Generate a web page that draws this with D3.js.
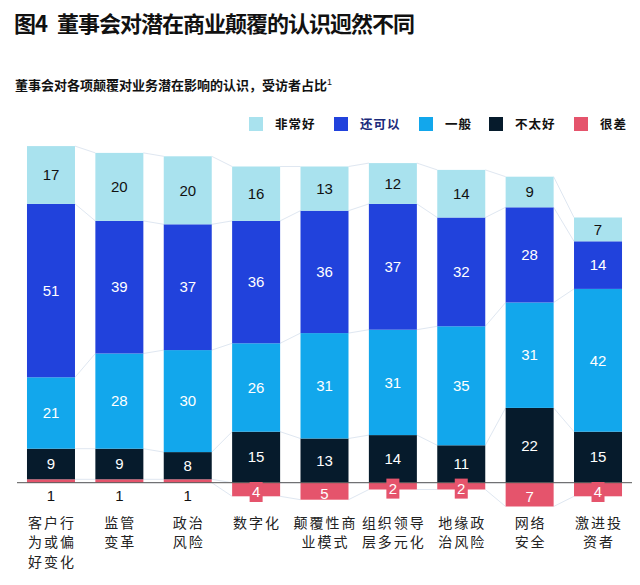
<!DOCTYPE html>
<html><head><meta charset="utf-8">
<script src="https://cdn.jsdelivr.net/npm/d3@7"></script>
<style>
html,body{margin:0;padding:0;background:#fff;}
svg{display:block;}
</style></head>
<body><svg id="c" width="640" height="585"></svg>
<script>
const titlePrefix = "图4";
const titleText = "董事会对潜在商业颠覆的认识迥然不同";
const subtitleText = "董事会对各项颠覆对业务潜在影响的认识，受访者占比";
const categories = [
  ["客户行","为或偏","好变化"],
  ["监管","变革"],
  ["政治","风险"],
  ["数字化"],
  ["颠覆性商","业模式"],
  ["组织领导","层多元化"],
  ["地缘政","治风险"],
  ["网络","安全"],
  ["激进投","资者"]
];
const seriesNames = ["非常好","还可以","一般","不太好","很差"];
const veryGood = [17,20,20,16,13,12,14,9,7];
const okay     = [51,39,37,36,36,37,32,28,14];
const neutral  = [21,28,30,26,31,31,35,31,42];
const notGood  = [9,9,8,15,13,14,11,22,15];
const veryBad  = [1,1,1,4,5,2,2,7,4];
const colors = ["#a9e2ee","#2142dc","#12a7ec","#061b2c","#e5546c"];
const labelColors = ["#111","#fff","#fff","#fff","#fff"];

const svg = d3.select("#c");
const cats = categories.map(d => d.join(""));

const tt = svg.append("text").attr("x",14).attr("y",32)
  .attr("font-family","'Noto Sans CJK SC'").attr("font-weight",700)
  .attr("font-size",22).attr("letter-spacing",-1).attr("fill","#111");
tt.append("tspan").text(titlePrefix);
tt.append("tspan").attr("dx",10).text(titleText);

const st = svg.append("text").attr("x",15).attr("y",90)
  .attr("font-family","'Noto Sans CJK SC'").attr("font-weight",700)
  .attr("font-size",13).attr("fill","#111").text(subtitleText);
st.append("tspan").attr("dy",-5).attr("font-size",9).attr("font-weight",400)
  .attr("font-family","'Liberation Sans'").text("1");

// legend
const legendX = [249,334,419,489,574];
const lg = svg.append("g");
seriesNames.forEach((n,i) => {
  lg.append("rect").attr("x",legendX[i]).attr("y",117).attr("width",14).attr("height",14).attr("fill",colors[i]);
  lg.append("text").attr("x",legendX[i]+26).attr("y",129)
    .attr("font-family","'Noto Sans CJK SC'").attr("font-weight",700).attr("font-size",12.5)
    .attr("letter-spacing",1).attr("fill", i===1 ? "#1b2a7a" : "#111").text(n);
});

const x = d3.scaleBand().domain(cats).range([17,632]).paddingInner(0.298).paddingOuter(0.146);
const y = d3.scaleLinear().domain([0,100]).range([482.7,142.7]);

// build stacks
const rows = cats.map((c,i) => {
  const vals = [veryGood[i], okay[i], neutral[i], notGood[i]];
  const bad = veryBad[i];
  const segs = [];
  let base = 0;
  if (bad <= 1) { segs.push({k:4, v:bad, y0:0, y1:bad, below:true}); base = bad; }
  else { segs.push({k:4, v:bad, y0:-bad, y1:0, below:false}); }
  for (let k=3;k>=0;k--) { segs.push({k, v:vals[k], y0:base, y1:base+vals[k]}); base += vals[k]; }
  return {c, i, segs};
});

// connector lines
const conn = svg.append("g").attr("stroke","#dfe7f1").attr("stroke-width",1).attr("fill","none");
for (let i=0;i<rows.length-1;i++){
  const a = rows[i], b = rows[i+1];
  const bounds = s => {
    const arr = [];
    s.segs.forEach(g => { arr.push([g.k,'top',g.y1]); });
    const pink = s.segs.find(g=>g.k===4);
    arr.push([4,'bot',pink.y0]);
    return arr;
  };
  const ba = bounds(a), bb = bounds(b);
  ba.forEach(p => {
    const q = bb.find(z => z[0]===p[0] && z[1]===p[1]);
    if (!q) return;
    conn.append("line")
      .attr("x1", x(a.c)+x.bandwidth()).attr("y1", y(p[2]))
      .attr("x2", x(b.c)).attr("y2", y(q[2]));
  });
}

const bars = svg.append("g");
rows.forEach(r => {
  r.segs.forEach(s => {
    bars.append("rect").attr("x",x(r.c)).attr("width",x.bandwidth())
      .attr("y",y(s.y1)).attr("height",y(s.y0)-y(s.y1)).attr("fill",colors[s.k]);
  });
});

// baseline
svg.append("line").attr("x1",17).attr("x2",632).attr("y1",y(0)).attr("y2",y(0))
  .attr("stroke","#555").attr("stroke-width",1);

// labels
const lab = svg.append("g").attr("font-family","'Liberation Sans', Arial, sans-serif")
  .attr("font-size",15).attr("text-anchor","middle");
rows.forEach(r => {
  const cx = x(r.c) + x.bandwidth()/2;
  r.segs.forEach(s => {
    if (s.k===4) {
      if (s.below) {
        lab.append("text").attr("x",cx).attr("y",y(0)+13.5).attr("dy","0.35em")
          .attr("fill","#111").text(s.v);
      } else {
        const h = y(s.y0)-y(0);
        const cy = y(0) + h/2 + 2.5;
        if (s.v < 5) {
          lab.append("rect").attr("x",cx-6.5).attr("y",cy-10).attr("width",13).attr("height",20)
            .attr("fill",colors[4]);
        }
        lab.append("text").attr("x",cx).attr("y",cy).attr("dy","0.35em")
          .attr("fill","#fff").text(s.v);
      }
    } else {
      lab.append("text").attr("x",cx).attr("y",(y(s.y0)+y(s.y1))/2).attr("dy","0.35em")
        .attr("fill",labelColors[s.k]).text(s.v);
    }
  });
});

// category labels
const cl = svg.append("g").attr("font-family","'Noto Sans CJK SC'").attr("font-size",14)
  .attr("fill","#222").attr("text-anchor","middle");
categories.forEach((lines,i) => {
  const cx = x(cats[i]) + x.bandwidth()/2;
  const t = cl.append("text").attr("x",cx+1).attr("y",528).attr("letter-spacing",2);
  lines.forEach((ln,j) => {
    t.append("tspan").attr("x",cx+1).attr("y",528+j*19.3).text(ln);
  });
});
</script>
</body></html>
